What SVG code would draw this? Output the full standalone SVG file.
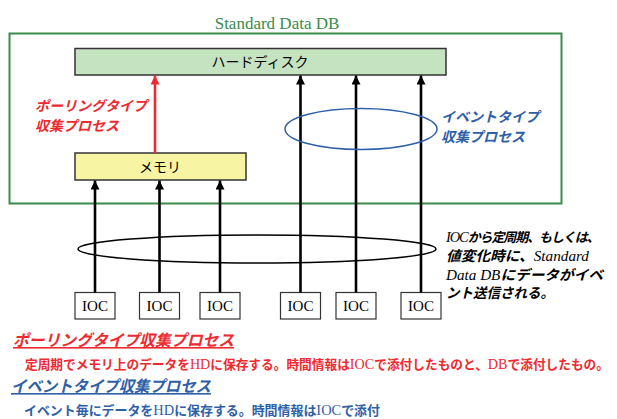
<svg xmlns="http://www.w3.org/2000/svg" width="617" height="419" viewBox="0 0 617 419">
<style>
  .jp{font-family:"Noto Sans CJK JP","Noto Sans",sans-serif}
  .mix{font-family:"Liberation Serif","Noto Sans CJK JP",serif}
  .lat{font-family:"Liberation Serif",serif;font-weight:normal;font-size:14.5px}
  .box{stroke:#333;stroke-width:1.5}
  .ioc{fill:#fff;stroke:#333;stroke-width:1.2}
  .ioct{font-family:"Liberation Serif",serif;font-size:15px;text-anchor:middle;fill:#000}
  .blk{stroke:#000;stroke-width:2.6;fill:none}
  .red{stroke:#ee2a30;stroke-width:2.6;fill:none}
  .rtxt{fill:#ee2a30}
  .btxt{fill:#2f5fa7}
  .it{font-style:italic;font-weight:bold}
</style>
<defs>
  <marker id="ab" markerUnits="userSpaceOnUse" markerWidth="9" markerHeight="9" viewBox="0 0 8 8" refX="8" refY="4" orient="auto">
    <path d="M0,0 L8,4 L0,8 z" fill="#000"/>
  </marker>
  <marker id="ar" markerUnits="userSpaceOnUse" markerWidth="9" markerHeight="9" viewBox="0 0 8 8" refX="8" refY="4" orient="auto">
    <path d="M0,0 L8,4 L0,8 z" fill="#ee2a30"/>
  </marker>
</defs>
<rect width="617" height="419" fill="#fff"/>

<g id="standard-data-db">
  <rect x="9.5" y="33.5" width="552" height="170" fill="none" stroke="#3b8b4b" stroke-width="2"/>
  <text x="277" y="29" font-family="Liberation Serif, serif" font-size="17" fill="#3b8b4b" text-anchor="middle">Standard Data DB</text>
</g>

<g id="harddisk">
  <rect class="box" x="75" y="48.5" width="371" height="26.5" fill="#c5e3c1"/>
  <text class="jp" x="260" y="67" font-size="14" text-anchor="middle">ハードディスク</text>
</g>

<g id="memory">
  <rect class="box" x="75" y="153" width="171" height="27" fill="#f7f4a3"/>
  <text class="jp" x="160" y="172" font-size="14" text-anchor="middle">メモリ</text>
</g>

<g id="ioc1"><rect class="ioc" x="75" y="292.5" width="40" height="26.5"/><text class="ioct" x="95" y="311">IOC</text></g>
<g id="ioc2"><rect class="ioc" x="139.5" y="292.5" width="40" height="26.5"/><text class="ioct" x="159.5" y="311">IOC</text></g>
<g id="ioc3"><rect class="ioc" x="200" y="292.5" width="40" height="26.5"/><text class="ioct" x="220" y="311">IOC</text></g>
<g id="ioc4"><rect class="ioc" x="280.5" y="292.5" width="40" height="26.5"/><text class="ioct" x="300.5" y="311">IOC</text></g>
<g id="ioc5"><rect class="ioc" x="336" y="292.5" width="40" height="26.5"/><text class="ioct" x="356" y="311">IOC</text></g>
<g id="ioc6"><rect class="ioc" x="401" y="292.5" width="40" height="26.5"/><text class="ioct" x="421" y="311">IOC</text></g>

<g id="connectors">
  <line class="red" x1="155" y1="153" x2="155" y2="75.5" marker-end="url(#ar)"/>
  <line class="blk" x1="95" y1="292.5" x2="95" y2="180.5" marker-end="url(#ab)"/>
  <line class="blk" x1="159.5" y1="292.5" x2="159.5" y2="180.5" marker-end="url(#ab)"/>
  <line class="blk" x1="220" y1="292.5" x2="220" y2="180.5" marker-end="url(#ab)"/>
  <line class="blk" x1="300.5" y1="292.5" x2="300.5" y2="75.5" marker-end="url(#ab)"/>
  <line class="blk" x1="356" y1="292.5" x2="356" y2="75.5" marker-end="url(#ab)"/>
  <line class="blk" x1="421" y1="292.5" x2="421" y2="75.5" marker-end="url(#ab)"/>
</g>

<g id="event-ellipse">
  <ellipse cx="361" cy="129" rx="76" ry="20.5" fill="none" stroke="#2f5fa7" stroke-width="1.5"/>
  <text class="jp it btxt" font-size="14"><tspan x="441" y="122">イベントタイプ</tspan><tspan x="441" y="142">収集プロセス</tspan></text>
</g>

<g id="polling-label">
  <text class="jp it rtxt" font-size="14"><tspan x="35" y="111">ポーリングタイプ</tspan><tspan x="35" y="131">収集プロセス</tspan></text>
</g>

<g id="ioc-ellipse">
  <ellipse cx="257" cy="249" rx="179" ry="14" fill="none" stroke="#000" stroke-width="1.5"/>
  <text class="mix it" font-size="13" fill="#000" x="446" y="242" letter-spacing="-1.1"><tspan class="lat">IOC</tspan>から定周期、もしくは、</text>
  <text class="mix it" font-size="14" fill="#000" x="446" y="261" textLength="143" lengthAdjust="spacingAndGlyphs">値変化時に、<tspan class="lat">Standard</tspan></text>
  <text class="mix it" font-size="14" fill="#000" x="446" y="280" textLength="157" lengthAdjust="spacingAndGlyphs"><tspan class="lat">Data DB</tspan>にデータがイベ</text>
  <text class="mix it" font-size="14" fill="#000" x="446" y="298" textLength="108" lengthAdjust="spacingAndGlyphs">ント送信される。</text>
</g>

<g id="notes">
  <text class="jp it rtxt" font-size="16" x="13" y="346" textLength="221" lengthAdjust="spacingAndGlyphs" text-decoration="underline">ポーリングタイプ収集プロセス</text>
  <text class="mix rtxt" font-size="13" font-weight="bold" x="25" y="369" textLength="584" lengthAdjust="spacingAndGlyphs">定周期でメモリ上のデータを<tspan class="lat">HD</tspan>に保存する。時間情報は<tspan class="lat">IOC</tspan>で添付したものと、<tspan class="lat">DB</tspan>で添付したもの。</text>
  <text class="jp it btxt" font-size="16" x="11" y="392" textLength="200" lengthAdjust="spacingAndGlyphs" text-decoration="underline">イベントタイプ収集プロセス</text>
  <text class="mix btxt" font-size="13" font-weight="bold" x="24" y="415" textLength="356" lengthAdjust="spacingAndGlyphs">イベント毎にデータを<tspan class="lat">HD</tspan>に保存する。時間情報は<tspan class="lat">IOC</tspan>で添付</text>
</g>
</svg>
